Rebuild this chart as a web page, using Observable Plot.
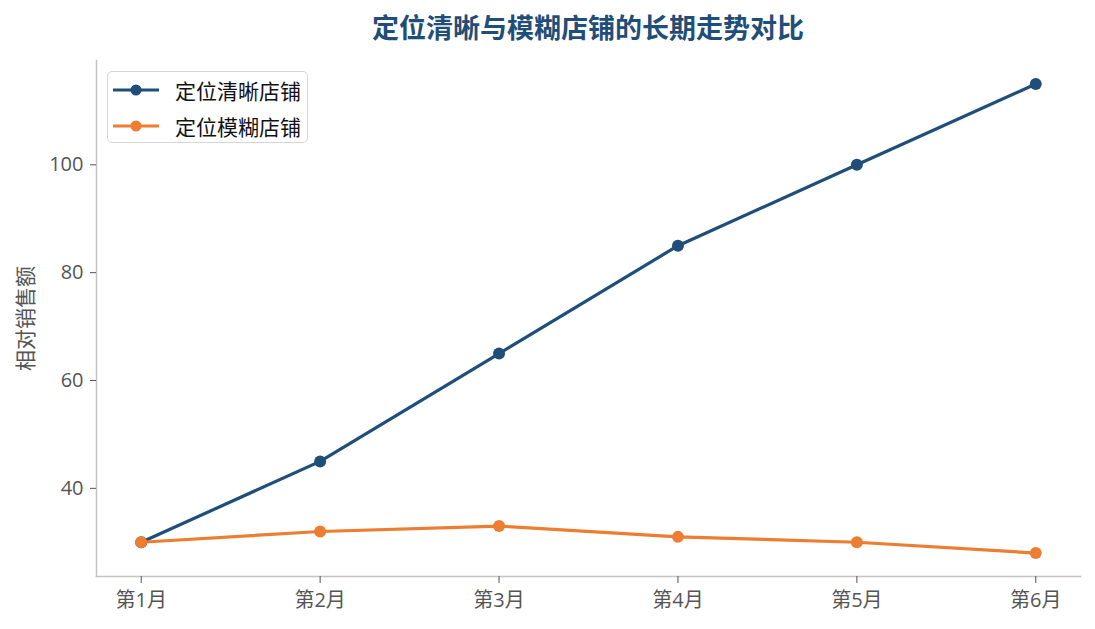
<!DOCTYPE html>
<html><head><meta charset="utf-8">
<script src="https://cdn.jsdelivr.net/npm/d3@7"></script>
<script src="https://cdn.jsdelivr.net/npm/@observablehq/plot@0.6"></script>
<style>
body{margin:0;background:#fff;font-family:"Open Sans","Noto Sans CJK SC",sans-serif;}
#wrap{position:relative;width:1095px;height:629px;}
#title{height:46px;box-sizing:border-box;padding-left:96px;padding-right:15px;text-align:center;font-family:"Noto Sans CJK SC",sans-serif;font-size:27px;font-weight:bold;color:#1f4e79;line-height:54px;white-space:nowrap;}
#legend{position:absolute;left:107px;top:71px;width:201px;height:72px;box-sizing:border-box;border:1.5px solid #d6d6d6;border-radius:5px;background:#fff;font-size:21px;color:#111;font-family:"Noto Sans CJK SC",sans-serif;}
.item{position:absolute;left:5px;height:24px;display:flex;align-items:center;white-space:nowrap;}
.item span{margin-left:16px;line-height:24px;}
</style></head>
<body><div id="wrap"><div id="title"></div><div id="chart"></div><div id="legend"></div></div>
<script>
const months = ["第1月","第2月","第3月","第4月","第5月","第6月"];
const clearStore = [30,45,65,85,100,115];
const fuzzyStore = [30,32,33,31,30,28];
const seriesNames = ["定位清晰店铺","定位模糊店铺"];
const seriesColors = ["#1f4e79","#ed7d31"];
const yTicks = [40,60,80,100];
const titleText = "定位清晰与模糊店铺的长期走势对比";
const yLabel = "相对销售额";

document.getElementById("title").textContent = titleText;

const seriesValues = [clearStore, fuzzyStore];
const data = seriesNames.flatMap((s, k) => months.map((m, i) => ({month: m, value: seriesValues[k][i], series: s})));

const chart = Plot.plot({
  width: 1095, height: 583,
  marginLeft: 96, marginRight: 15, marginTop: 14, marginBottom: 53,
  style: {fontFamily: '"Open Sans","Noto Sans CJK SC",sans-serif', fontSize: "20px", background: "#fff"},
  x: {type: "point", domain: months, padding: 0.25, round: false, label: null},
  y: {domain: [23.65, 119.35], label: null},
  color: {domain: seriesNames, range: seriesColors},
  marks: [
    Plot.frame({anchor: "left", stroke: "#c4c4c4", strokeWidth: 1.5}),
    Plot.frame({anchor: "bottom", stroke: "#c4c4c4", strokeWidth: 1.5}),
    Plot.axisX({tickSize: 7, tickPadding: 9, color: "#555", fontSize: 20, label: null}),
    Plot.axisY({ticks: yTicks, tickSize: 6, tickPadding: 7, color: "#555", fontSize: 20, label: null}),
    Plot.text([yLabel], {frameAnchor: "left", textAnchor: "middle", dx: -70, rotate: -90, fill: "#555", fontSize: 21, fontFamily: '"Noto Sans CJK SC",sans-serif'}),
    Plot.line(data, {x: "month", y: "value", z: "series", stroke: "series", strokeWidth: 3.2}),
    Plot.dot(data, {x: "month", y: "value", fill: "series", r: 6})
  ]
});
document.getElementById("chart").appendChild(chart);

const legend = document.getElementById("legend");
seriesNames.forEach((s, k) => {
  const it = document.createElement("div");
  it.className = "item";
  it.style.top = (6 + k * 36) + "px";
  it.innerHTML = `<svg width="46" height="14"><line x1="0" x2="46" y1="7" y2="7" stroke="${seriesColors[k]}" stroke-width="3"/><circle cx="23" cy="7" r="5.5" fill="${seriesColors[k]}"/></svg><span></span>`;
  it.querySelector("span").textContent = s;
  legend.appendChild(it);
});
</script></body></html>
